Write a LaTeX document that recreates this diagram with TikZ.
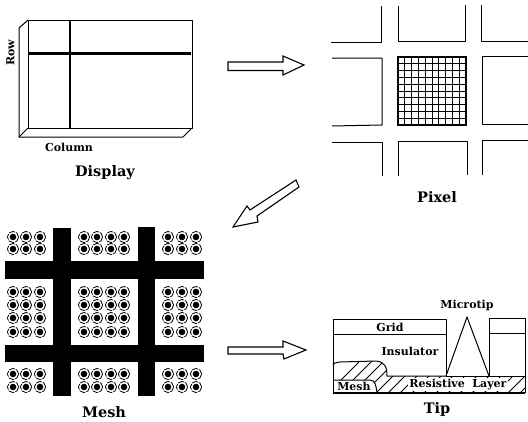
\documentclass[tikz,border=0pt]{standalone}
\usepackage{fontspec}
\setmainfont{DejaVu Serif}
\tikzset{
  px/.style={x=1pt,y=-1pt},
  ink/.style={line width=1pt,line join=round,black},
  hollow/.style={line width=1.1pt,line join=miter,fill=white},
  lab/.style={font=\bfseries\fontsize{14.5}{16}\selectfont,inner sep=0pt},
  sublab/.style={font=\bfseries\fontsize{11}{12}\selectfont,inner sep=0pt},
  bar/.style={fill=black,draw=none},
  ring/.style={line width=0.8pt,dash pattern=on 6pt off 1.2pt},
}
\newcommand{\tipdot}[2]{\draw[ring] (#1,#2) circle[radius=5.6]; \fill (#1,#2) circle[radius=3.3];}
\begin{document}
\begin{tikzpicture}[px]
\useasboundingbox (0,0) rectangle (528,421);
% Display
\draw[ink] (28,20) rectangle (192,128);
\draw[ink] (28,20) -- (19,28) -- (19,137) -- (183,137) -- (192,128);
\draw[ink] (19,137) -- (28,128);
\draw[line width=2.8pt] (28,53.5) -- (191,53.5);
\draw[line width=2.8pt] (70,20) -- (70,128);
\node[sublab,rotate=90] (row) at (10.5,53) {Row};
\node[sublab] (column) at (69,147) {Column};
\node[lab] (display) at (105,173) {Display};
% Arrow 1
\draw[hollow] (228,62) -- (283,62) -- (283,56) -- (304,65) -- (283,75) -- (283,70.5) -- (228,70.5) -- cycle;
% Pixel
\draw[ink] (331,42) -- (381,42) -- (381,6);
\draw[ink] (398,6) -- (398,41) -- (465,41) -- (465,5);
\draw[ink] (481,5) -- (481,41) -- (528,41);
\draw[ink] (332,58) -- (382,58) -- (382,125) -- (332,126);
\draw[ink] (528,56) -- (482,56) -- (482,124) -- (528,124);
\draw[ink] (332,142) -- (382,142) -- (382,176);
\draw[ink] (398,176) -- (398,141) -- (467,141) -- (467,175);
\draw[ink] (482,175) -- (482,140) -- (528,140);
\draw[line width=1.1pt] (398,57) rectangle (466,125);
\foreach \i in {1,...,9}{
  \draw[line width=0.9pt] ({398+6.8*\i},57) -- ({398+6.8*\i},125);
  \draw[line width=0.9pt] (398,{57+6.8*\i}) -- (466,{57+6.8*\i});
}
\node[lab] (pixel) at (437,197) {Pixel};
% Arrow 2
\draw[hollow] (296,180) -- (299,187) -- (257,216) -- (258,222) -- (233,227) -- (247,206) -- (250,210) -- cycle;
% Mesh
\fill[bar] (53,228) rectangle (70.5,396);
\fill[bar] (138,227) rectangle (155,396);
\fill[bar] (5,261) rectangle (204,279);
\fill[bar] (5,345) rectangle (204,362);
\foreach \y in {237,249,374,387}{
  \foreach \x in {13,26,40,84,97,111,124,168,182,196}{\tipdot{\x}{\y}}
}
\foreach \y in {292,305,318,332}{
  \foreach \x in {13,26,40,84,97,111,124,168,182,196}{\tipdot{\x}{\y}}
}
\node[lab] (mesh) at (104,412) {Mesh};
% Arrow 3
\draw[hollow] (228,347) -- (283,347) -- (283,341) -- (306,350) -- (284,359) -- (283,354) -- (228,354) -- cycle;
% Tip
\begin{scope}
  \clip (333,380) -- (333,365) .. controls (334,363) .. (340,362) -- (376,361)
    .. controls (385,362) and (387,367) .. (387,376) -- (525,376) -- (525,393) -- (377,393)
    .. controls (376,385) and (375,380) .. (370,380) -- cycle;
  \foreach \i in {0,...,22}{
    \draw[line width=0.8pt] ({325+12*\i},396) -- ({325+12*\i+36},360);
  }
\end{scope}
\draw[ink] (333,393) -- (333,319) -- (446,319) -- (446,376);
\draw[ink] (333,334) -- (446,334);
\draw[ink] (333,365) .. controls (334,363) .. (340,362) -- (376,361)
    .. controls (385,362) and (387,367) .. (387,376) -- (446,376);
\draw[ink] (333,380) -- (370,380) .. controls (375,380) and (376,385) .. (377,393);
\draw[ink] (446,376) -- (467,317) -- (489,376);
\draw[ink] (489,376) -- (489,318) -- (525,318) -- (525,393);
\draw[ink] (489,333) -- (525,333);
\draw[ink] (446,376) -- (525,376);
\draw[line width=1.2pt] (333,393) -- (525,393);
\node[sublab] (grid) at (390,327) {Grid};
\node[sublab] (insulator) at (410,351) {Insulator};
\node[sublab] (microtip) at (467,305) {Microtip};
\node[sublab,inner sep=0.5pt] (meshb) at (354,386.5) {Mesh};
\node[sublab,fill=white,inner sep=1pt] (resist) at (458,384.5) {Resistive\ \ Layer};
\node[lab] (tip) at (437,409) {Tip};
\end{tikzpicture}
\end{document}
